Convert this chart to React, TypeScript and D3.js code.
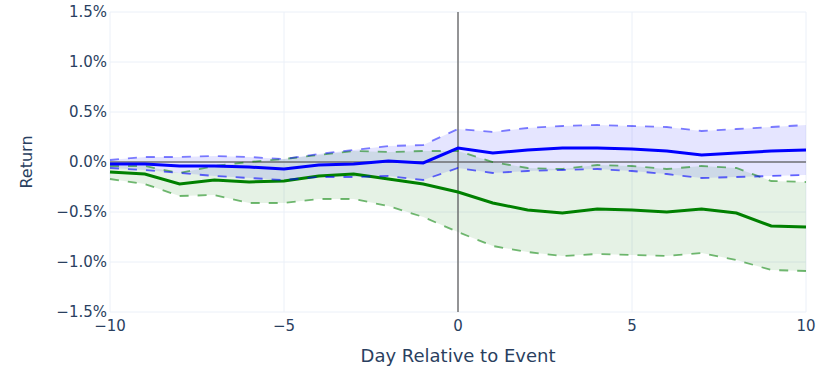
import React from "react";
import * as d3 from "d3";

const days = [-10, -9, -8, -7, -6, -5, -4, -3, -2, -1, 0, 1, 2, 3, 4, 5, 6, 7, 8, 9, 10];

// values in percent
const blueMean = [-0.02, -0.02, -0.04, -0.04, -0.05, -0.07, -0.03, -0.02, 0.01, -0.01, 0.14, 0.09, 0.12, 0.14, 0.14, 0.13, 0.11, 0.07, 0.09, 0.11, 0.12];
const blueUpper = [0.02, 0.05, 0.05, 0.06, 0.05, 0.03, 0.08, 0.12, 0.16, 0.17, 0.33, 0.30, 0.34, 0.36, 0.37, 0.36, 0.35, 0.31, 0.33, 0.35, 0.37];
const blueLower = [-0.06, -0.08, -0.11, -0.14, -0.16, -0.18, -0.15, -0.15, -0.14, -0.18, -0.06, -0.11, -0.09, -0.08, -0.07, -0.09, -0.12, -0.16, -0.15, -0.14, -0.13];

const greenMean = [-0.10, -0.12, -0.22, -0.18, -0.20, -0.19, -0.14, -0.12, -0.17, -0.22, -0.30, -0.41, -0.48, -0.51, -0.47, -0.48, -0.50, -0.47, -0.51, -0.64, -0.65];
const greenUpper = [-0.04, -0.04, -0.11, -0.04, 0.0, 0.03, 0.07, 0.11, 0.10, 0.11, 0.11, 0.0, -0.06, -0.07, -0.03, -0.04, -0.07, -0.04, -0.06, -0.19, -0.20];
const greenLower = [-0.17, -0.22, -0.34, -0.33, -0.41, -0.41, -0.37, -0.37, -0.44, -0.55, -0.70, -0.84, -0.90, -0.94, -0.92, -0.93, -0.94, -0.91, -0.98, -1.08, -1.09];

const xTicks = [-10, -5, 0, 5, 10];
const yTicks = [1.5, 1.0, 0.5, 0.0, -0.5, -1.0, -1.5];

const xTitle = "Day Relative to Event";
const yTitle = "Return";

const W = 819;
const H = 372;
const plot = { left: 110, right: 806, top: 12, bottom: 312 };
const FONT = "Verdana, 'DejaVu Sans', sans-serif";
const TEXT = "#2a3f5f";

const minus = (s: string) => s.replace("-", "\u2212");

export default function App() {
  const x = d3.scaleLinear().domain([-10, 10]).range([plot.left, plot.right]);
  const y = d3.scaleLinear().domain([-1.5, 1.5]).range([plot.bottom, plot.top]);

  const line = (vals: number[]) =>
    d3.line<number>().x((_, i) => x(days[i])).y((v) => y(v))(vals) || "";
  const area = (lo: number[], hi: number[]) =>
    d3
      .area<number>()
      .x((d) => x(d))
      .y0((_, i) => y(lo[i]))
      .y1((_, i) => y(hi[i]))(days) || "";

  return (
    <svg
      width={W}
      height={H}
      style={{ position: "absolute", left: 0, top: 0, background: "#fff" }}
      fontFamily={FONT}
    >
      <rect x={0} y={0} width={W} height={H} fill="#fff" />
      {/* grid */}
      {yTicks.map((t) => (
        <line key={"gy" + t} x1={plot.left} x2={plot.right} y1={y(t)} y2={y(t)} stroke="#ebf0f8" strokeWidth={1} />
      ))}
      {xTicks.map((t) => (
        <line key={"gx" + t} x1={x(t)} x2={x(t)} y1={plot.top} y2={plot.bottom} stroke="#ebf0f8" strokeWidth={1} />
      ))}

      {/* fills */}
      <path d={area(greenLower, greenUpper)} fill="rgba(0,128,0,0.1)" stroke="none" />
      <path d={area(blueLower, blueUpper)} fill="rgba(0,0,255,0.1)" stroke="none" />

      {/* reference lines */}
      <line x1={plot.left} x2={plot.right} y1={y(0)} y2={y(0)} stroke="#666" strokeWidth={1.5} opacity={0.9} />
      <line x1={x(0)} x2={x(0)} y1={plot.top} y2={plot.bottom} stroke="#666" strokeWidth={1.5} opacity={0.9} />

      {/* green */}
      <path d={line(greenUpper)} fill="none" stroke="rgba(0,128,0,0.55)" strokeWidth={1.8} strokeDasharray="9,9" />
      <path d={line(greenLower)} fill="none" stroke="rgba(0,128,0,0.55)" strokeWidth={1.8} strokeDasharray="9,9" />
      <path d={line(greenMean)} fill="none" stroke="#008000" strokeWidth={3} />

      {/* blue */}
      <path d={line(blueUpper)} fill="none" stroke="rgba(0,0,255,0.5)" strokeWidth={1.8} strokeDasharray="9,9" />
      <path d={line(blueLower)} fill="none" stroke="rgba(0,0,255,0.6)" strokeWidth={1.8} strokeDasharray="9,9" />
      <path d={line(blueMean)} fill="none" stroke="#0000ff" strokeWidth={3} />

      {/* y tick labels */}
      {yTicks.map((t) => (
        <text key={"ty" + t} x={107} y={y(t)} dy="0.32em" textAnchor="end" fontSize={15} fill={TEXT}>
          {minus(t.toFixed(1) + "%")}
        </text>
      ))}
      {/* x tick labels */}
      {xTicks.map((t) => (
        <text key={"tx" + t} x={x(t)} y={331} textAnchor="middle" fontSize={15} fill={TEXT}>
          {minus(String(t))}
        </text>
      ))}

      <text x={(plot.left + plot.right) / 2} y={362} textAnchor="middle" fontSize={18} fill={TEXT}>
        {xTitle}
      </text>
      <text
        transform={`translate(32,${(plot.top + plot.bottom) / 2}) rotate(-90)`}
        textAnchor="middle"
        fontSize={16}
        fill={TEXT}
      >
        {yTitle}
      </text>
    </svg>
  );
}
